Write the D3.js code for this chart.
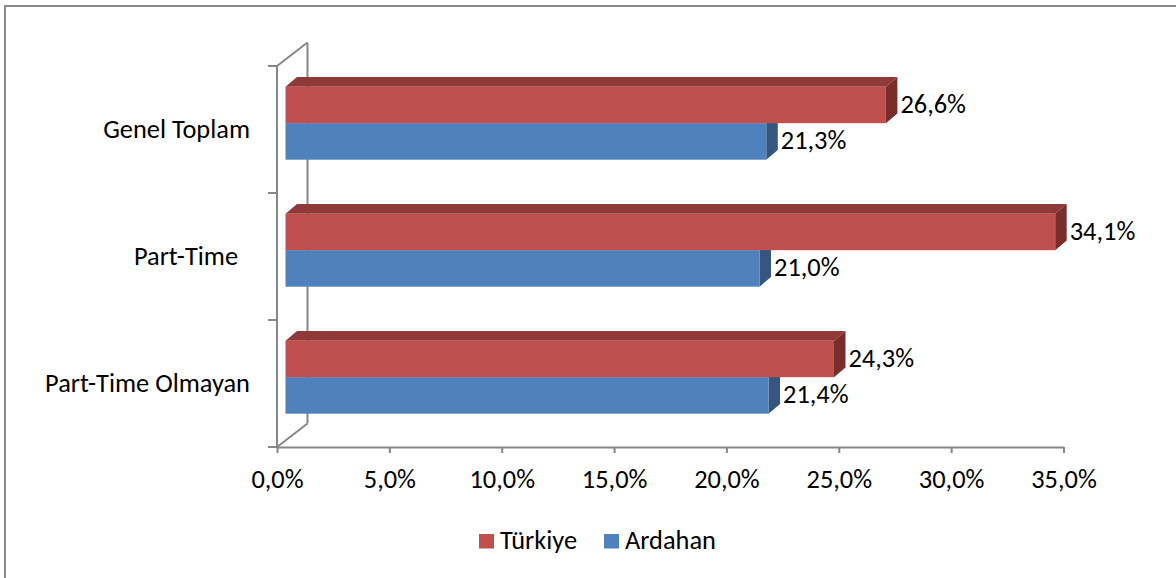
<!DOCTYPE html>
<html><head><meta charset="utf-8">
<script src="https://cdn.jsdelivr.net/npm/d3@7"></script>
<style>
html,body{margin:0;padding:0;background:#fff;}
svg{display:block;font-family:Carlito,Lato,"Open Sans",sans-serif;}
text{white-space:pre;}
</style></head>
<body>
<svg id="chart" width="1176" height="578"></svg>
<script>
const categories = ["Genel Toplam", "Part-Time  ", "Part-Time Olmayan"];
const seriesNames = ["Türkiye", "Ardahan"];
const turkiye = [26.6, 34.1, 24.3];
const ardahan = [21.3, 21.0, 21.4];
const xTicks = [0, 5, 10, 15, 20, 25, 30, 35];

const colors = {
  "Türkiye": {front:"#C0504D", top:"#8F3A38", side:"#7A2E2C"},
  "Ardahan": {front:"#4F81BD", top:"#3B6291", side:"#36567F"}
};
const fmt = v => v.toFixed(1).replace(".", ",") + "%";

const svg = d3.select("#chart");
const FS = 26.4;
const FONT = "Carlito,Lato,'Open Sans',sans-serif";

// outer frame
svg.append("rect").attr("x",5).attr("y",6).attr("width",1190).attr("height",600)
  .attr("fill","none").attr("stroke","#898989").attr("stroke-width",2);

const axisX = d3.scaleLinear().domain([0,35]).range([277,1063.5]);
const barX = d3.scaleLinear().domain([0,35]).range([285.5,1075.5]);
const yBand = d3.scaleBand().domain(categories).range([66,447]);
const ySeries = d3.scaleBand().domain(seriesNames).range([20.7, 20.7+73]);
const dx = 11.5, dy = 9.6;
const grey = "#878787";

// walls / frame lines
const g = svg.append("g").attr("stroke",grey).attr("stroke-width",2).attr("fill","none");
const yTop = yBand.range()[0], yBot = yBand.range()[1];
const xF = axisX(0), xB = axisX(0) + 30.5, dep = 23.5;
g.append("line").attr("x1",xF).attr("y1",yTop).attr("x2",xF).attr("y2",yBot);
g.append("line").attr("x1",xB).attr("y1",yTop-dep).attr("x2",xB).attr("y2",yBot-dep);
g.append("line").attr("x1",xF).attr("y1",yTop).attr("x2",xB).attr("y2",yTop-dep);
g.append("line").attr("x1",xF).attr("y1",yBot).attr("x2",xB).attr("y2",yBot-dep);
const yTicks = categories.map(c => yBand(c)).concat([yBot]);
yTicks.forEach(y => g.append("line").attr("x1",xF-9).attr("x2",xF).attr("y1",y).attr("y2",y));

// bars
const data = [];
categories.forEach((c,i) => {
  data.push({cat:c, s:"Ardahan", v:ardahan[i]});
  data.push({cat:c, s:"Türkiye", v:turkiye[i]});
});
const bars = svg.append("g");
data.forEach(d => {
  const y0 = yBand(d.cat) + ySeries(d.s);
  const y1 = y0 + ySeries.bandwidth();
  const x0 = barX(0), x1 = barX(d.v);
  const c = colors[d.s];
  bars.append("path").attr("fill",c.top)
    .attr("d",`M${x0},${y0}L${x0+dx},${y0-dy}L${x1+dx},${y0-dy}L${x1},${y0}Z`);
  bars.append("path").attr("fill",c.side)
    .attr("d",`M${x1},${y0}L${x1+dx},${y0-dy}L${x1+dx},${y1-dy}L${x1},${y1}Z`);
  bars.append("rect").attr("x",x0).attr("y",y0).attr("width",x1-x0).attr("height",y1-y0).attr("fill",c.front);
  svg.append("text").attr("x",x1+dx+3).attr("y",(y0+y1)/2+8)
    .attr("font-size",FS).attr("fill","#000").text(fmt(d.v));
});

// category labels
svg.append("g").selectAll("text").data(categories).join("text")
  .attr("x",250).attr("y",c => yBand(c)+yBand.bandwidth()/2+8.7)
  .attr("text-anchor","end").attr("font-size",FS).attr("fill","#000").text(c=>c);

// x axis
const xa = svg.append("g").attr("transform",`translate(0,${yBot})`)
  .call(d3.axisBottom(axisX).tickValues(xTicks).tickSize(6).tickSizeOuter(0).tickFormat(fmt));
xa.select(".domain").attr("stroke",grey).attr("stroke-width",2);
xa.selectAll(".tick line").attr("stroke",grey).attr("stroke-width",2);
xa.selectAll(".tick text").attr("y",41).attr("dy",0).attr("font-size",FS)
  .attr("font-family",FONT).attr("fill","#000");

// legend
const legend = svg.append("g");
const legX = [479, 604];
seriesNames.forEach((s,i) => {
  legend.append("rect").attr("x",legX[i]).attr("y",534).attr("width",15).attr("height",14.5).attr("fill",colors[s].front);
  legend.append("text").attr("x",legX[i]+21).attr("y",548.5).attr("font-size",FS).attr("fill","#000").text(s);
});
</script>
</body></html>
